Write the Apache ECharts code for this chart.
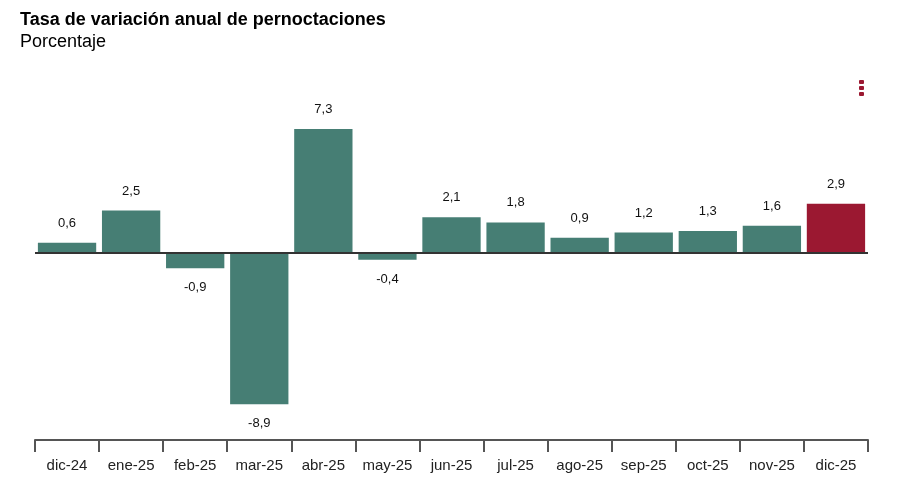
<!DOCTYPE html>
<html>
<head>
<meta charset="utf-8">
<script src="https://cdn.jsdelivr.net/npm/echarts@6/dist/echarts.min.js"></script>
<style>
  html, body { margin: 0; padding: 0; background: #fff; }
  #chart { width: 897px; height: 495px; }
</style>
</head>
<body>
<div id="chart"></div>
<script>
var categories = ['dic-24', 'ene-25', 'feb-25', 'mar-25', 'abr-25', 'may-25', 'jun-25',
  'jul-25', 'ago-25', 'sep-25', 'oct-25', 'nov-25', 'dic-25'];
var values = [0.6, 2.5, -0.9, -8.9, 7.3, -0.4, 2.1, 1.8, 0.9, 1.2, 1.3, 1.6, 2.9];

var teal = '#467e74';
var crimson = '#9b1831';

var myChart = echarts.init(document.getElementById('chart'));

var barData = values.map(function (v, i) {
  return {
    value: v,
    itemStyle: { color: i === values.length - 1 ? crimson : teal },
    label: { position: v >= 0 ? 'top' : 'bottom' }
  };
});

var option = {
  animation: false,
  textStyle: { fontFamily: 'Liberation Sans, Arial, sans-serif' },
  title: {
    text: 'Tasa de variación anual de pernoctaciones',
    subtext: 'Porcentaje',
    left: 15,
    top: 6,
    itemGap: 4,
    textStyle: { fontSize: 18, fontWeight: 'bold', color: '#000' },
    subtextStyle: { fontSize: 18, color: '#000' }
  },
  grid: { left: 35, right: 29, top: 117, bottom: 55 },
  xAxis: {
    type: 'category',
    data: categories,
    position: 'bottom',
    axisLine: { onZero: false, lineStyle: { color: '#555', width: 2 } },
    axisTick: { show: true, interval: 0, length: 12, lineStyle: { color: '#555', width: 2 } },
    axisLabel: { interval: 0, hideOverlap: false, fontSize: 15, color: '#222', margin: 18 }
  },
  yAxis: {
    type: 'value',
    min: -11,
    max: 8,
    show: false,
    splitLine: { show: false }
  },
  series: [
    {
      type: 'bar',
      data: barData,
      barCategoryGap: '9%',
      label: {
        show: true,
        distance: 13,
        fontSize: 13,
        color: '#111',
        formatter: function (p) { return String(p.value).replace('.', ','); }
      },
      markLine: {
        silent: true,
        symbol: 'none',
        label: { show: false },
        lineStyle: { color: '#333', width: 2, type: 'solid' },
        data: [{ yAxis: 0 }]
      }
    }
  ],
  graphic: [
    { type: 'rect', left: 859, top: 80, shape: { width: 5, height: 4, r: 1 }, style: { fill: crimson } },
    { type: 'rect', left: 859, top: 86, shape: { width: 5, height: 4, r: 1 }, style: { fill: crimson } },
    { type: 'rect', left: 859, top: 92, shape: { width: 5, height: 4, r: 1 }, style: { fill: crimson } }
  ]
};

myChart.setOption(option);
</script>
</body>
</html>
